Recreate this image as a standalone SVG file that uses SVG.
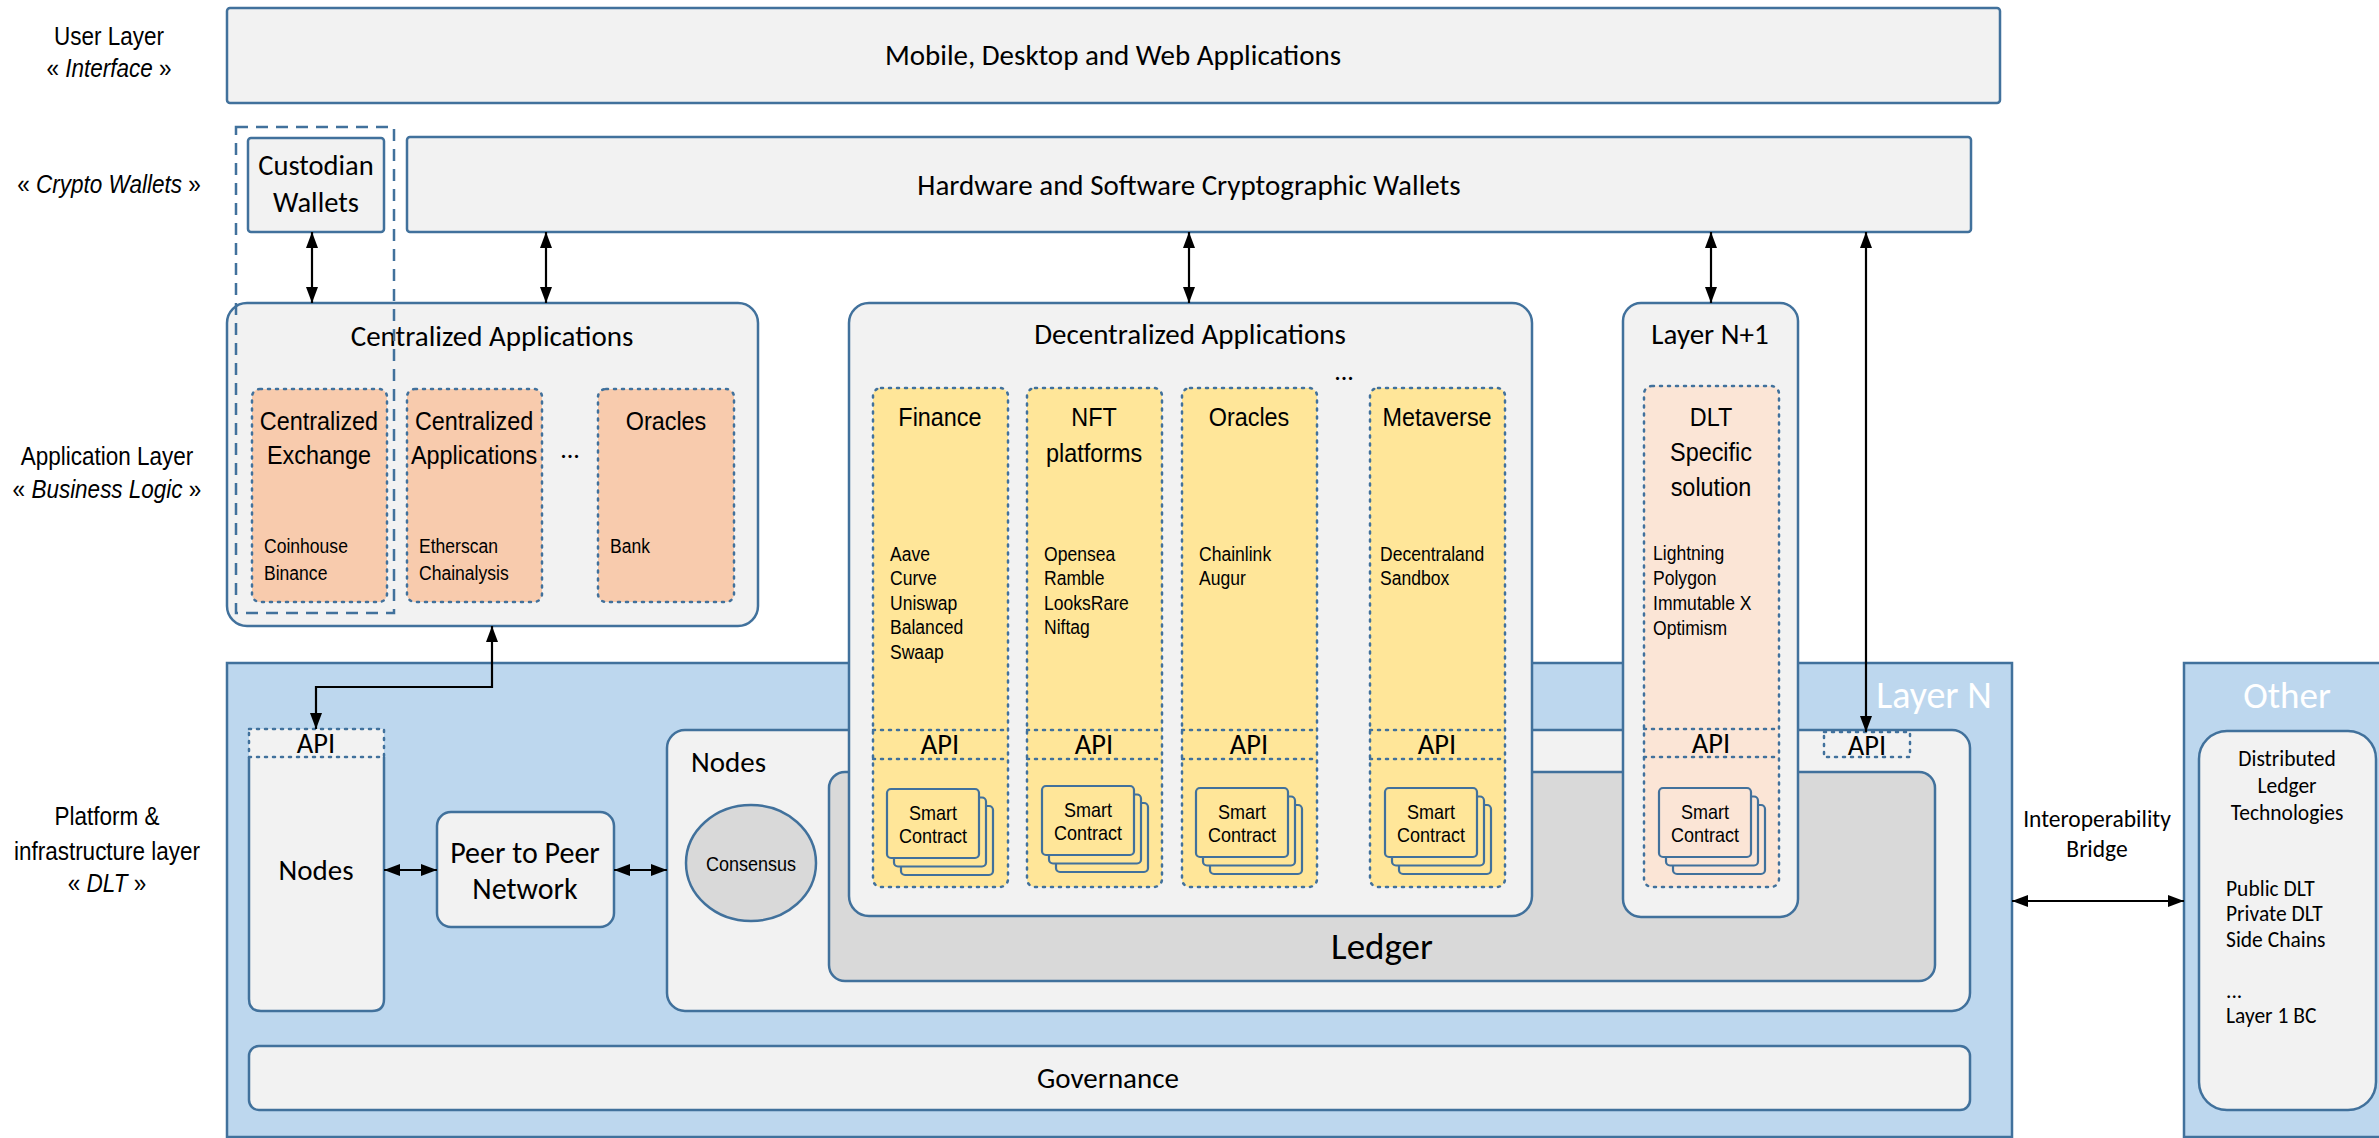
<svg xmlns="http://www.w3.org/2000/svg" width="2379" height="1138" viewBox="0 0 2379 1138">
  <style>
    .box { fill: #F2F2F2; stroke: #41719C; stroke-width: 2.5; }
    .layer { fill: #BDD7EE; stroke: #41719C; stroke-width: 2.5; }
    .ledger { fill: #D9D9D9; stroke: #41719C; stroke-width: 2.5; }
    .dot { stroke: #41719C; stroke-width: 2.5; stroke-dasharray: 2 6; stroke-linecap: round; }
    .org { fill: #F8CBAD; }
    .yel { fill: #FFE699; }
    .pnk { fill: #FBE5D6; }
    .sc { stroke: #41719C; stroke-width: 2.2; }
    .conn { fill: none; stroke: #000; stroke-width: 2.2; }
    .c { font-family: "Carlito", "Lato", "Open Sans", sans-serif; fill: #000; }
    .n { font-family: "Liberation Sans", Arial, sans-serif; fill: #000; }
    .mid { text-anchor: middle; }
    .w { fill: #FFFFFF; }
    .i { font-style: italic; }
  </style>
  <defs>
    <marker id="ah" viewBox="0 0 16 12" refX="16" refY="6" markerWidth="16" markerHeight="12" orient="auto-start-reverse" markerUnits="userSpaceOnUse">
      <path d="M0,0 L16,6 L0,12 z" fill="#000"/>
    </marker>
    <g id="stack-y">
      <rect x="14" y="17" width="92" height="69" rx="4" class="sc yel"/>
      <rect x="7" y="8.5" width="92" height="69" rx="4" class="sc yel"/>
      <rect x="0" y="0" width="92" height="69" rx="4" class="sc yel"/>
      <g transform="scale(0.9,1)" class="n mid" font-size="20">
        <text x="51.1" y="31">Smart</text>
        <text x="51.1" y="54">Contract</text>
      </g>
    </g>
    <g id="stack-p">
      <rect x="14" y="17" width="92" height="69" rx="4" class="sc pnk"/>
      <rect x="7" y="8.5" width="92" height="69" rx="4" class="sc pnk"/>
      <rect x="0" y="0" width="92" height="69" rx="4" class="sc pnk"/>
      <g transform="scale(0.9,1)" class="n mid" font-size="20">
        <text x="51.1" y="31">Smart</text>
        <text x="51.1" y="54">Contract</text>
      </g>
    </g>
  </defs>

  <!-- layer captions (narrow face: horizontally condensed) -->
  <g id="captions" font-size="25" transform="scale(0.9,1)">
    <text x="121.1" y="45" class="n mid">User Layer</text>
    <text x="121.1" y="77" class="n mid">« <tspan class="i">Interface</tspan> »</text>
    <text x="121.1" y="193" class="n mid">« <tspan class="i">Crypto Wallets</tspan> »</text>
    <text x="118.9" y="465" class="n mid">Application Layer</text>
    <text x="118.9" y="498" class="n mid">« <tspan class="i">Business Logic</tspan> »</text>
    <text x="118.9" y="825" class="n mid">Platform &amp;</text>
    <text x="118.9" y="860" class="n mid">infrastructure layer</text>
    <text x="118.9" y="892" class="n mid">« <tspan class="i">DLT</tspan> »</text>
  </g>

  <!-- user layer -->
  <g id="user-apps">
    <rect x="227" y="8" width="1773" height="95" rx="3" class="box"/>
    <text x="1113" y="65" class="c mid" font-size="29">Mobile, Desktop and Web Applications</text>
  </g>

  <!-- wallets -->
  <g id="custodian-wallets">
    <rect x="248" y="138" width="136" height="94" rx="3" class="box"/>
    <text x="316" y="175" class="c mid" font-size="28.5">Custodian</text>
    <text x="316" y="212" class="c mid" font-size="28.5">Wallets</text>
  </g>
  <g id="crypto-wallets">
    <rect x="407" y="137" width="1564" height="95" rx="3" class="box"/>
    <text x="1189" y="195" class="c mid" font-size="29">Hardware and Software Cryptographic Wallets</text>
  </g>

  <!-- platform layer N -->
  <g id="layer-n">
    <rect x="227" y="663" width="1785" height="474" class="layer"/>
    <text x="1934" y="708" class="c mid w" font-size="38">Layer N</text>
  </g>
  <g id="other-dlt">
    <rect x="2184" y="663" width="220" height="474" class="layer"/>
    <text x="2287" y="708" class="c mid w" font-size="37">Other</text>
    <rect x="2199" y="731" width="177" height="379" rx="28" class="box"/>
    <g class="c" font-size="21.5">
      <text x="2287" y="766" class="mid">Distributed</text>
      <text x="2287" y="793" class="mid">Ledger</text>
      <text x="2287" y="820" class="mid">Technologies</text>
      <text x="2226" y="896">Public DLT</text>
      <text x="2226" y="921">Private DLT</text>
      <text x="2226" y="947">Side Chains</text>
      <text x="2226" y="998">...</text>
      <text x="2226" y="1023">Layer 1 BC</text>
    </g>
  </g>
  <g id="bridge-label" class="c" font-size="23.5">
    <text x="2097" y="827" class="mid">Interoperability</text>
    <text x="2097" y="857" class="mid">Bridge</text>
  </g>

  <g id="nodes-cluster">
    <rect x="667" y="730" width="1303" height="281" rx="18" class="box"/>
    <text x="691" y="772" class="c" font-size="29">Nodes</text>
  </g>
  <g id="ledger">
    <rect x="829" y="772" width="1106" height="209" rx="16" class="ledger"/>
    <text x="1382" y="959" class="c mid" font-size="37">Ledger</text>
  </g>
  <g id="consensus">
    <ellipse cx="751" cy="863" rx="65" ry="58" class="ledger"/>
    <text x="834.4" y="871" class="n mid" font-size="20" transform="scale(0.9,1)">Consensus</text>
  </g>
  <g id="governance">
    <rect x="249" y="1046" width="1721" height="64" rx="10" class="box"/>
    <text x="1108" y="1088" class="c mid" font-size="29">Governance</text>
  </g>
  <g id="p2p">
    <rect x="437" y="812" width="177" height="115" rx="14" class="box"/>
    <text x="525" y="863" class="c mid" font-size="30">Peer to Peer</text>
    <text x="525" y="899" class="c mid" font-size="30">Network</text>
  </g>
  <g id="nodes-api">
    <rect x="249" y="740" width="135" height="271" rx="12" fill="#F2F2F2"/>
    <path d="M249,757 V999 Q249,1011 261,1011 H372 Q384,1011 384,999 V757" fill="none" stroke="#41719C" stroke-width="2.5"/>
    <rect x="249" y="729" width="135" height="28" fill="#F2F2F2" class="dot"/>
    <text x="316" y="753" class="c mid" font-size="28.5">API</text>
    <text x="316" y="880" class="c mid" font-size="29">Nodes</text>
  </g>
  <g id="layer-n-api">
    <rect x="1824" y="732" width="86" height="25" fill="#F2F2F2" class="dot"/>
    <text x="1867" y="755" class="c mid" font-size="28.5">API</text>
  </g>

  <!-- centralized applications -->
  <g id="centralized-apps">
    <rect x="227" y="303" width="531" height="323" rx="20" class="box"/>
    <text x="492" y="346" class="c mid" font-size="29">Centralized Applications</text>
    <rect x="252" y="389" width="135" height="213" rx="8" class="org dot"/>
    <rect x="407" y="389" width="135" height="213" rx="8" class="org dot"/>
    <rect x="598" y="389" width="136" height="213" rx="8" class="org dot"/>
    <g class="n mid" font-size="26" transform="scale(0.9,1)">
      <text x="354.4" y="430">Centralized</text>
      <text x="354.4" y="464">Exchange</text>
      <text x="526.7" y="430">Centralized</text>
      <text x="526.7" y="464">Applications</text>
      <text x="740" y="430">Oracles</text>
    </g>
    <text x="570" y="458" class="c mid" font-size="26">...</text>
    <g class="n" font-size="21" transform="scale(0.836,1)">
      <text x="315.8" y="553">Coinhouse</text>
      <text x="315.8" y="580">Binance</text>
      <text x="501.2" y="553">Etherscan</text>
      <text x="501.2" y="580">Chainalysis</text>
      <text x="729.7" y="553">Bank</text>
    </g>
  </g>

  <!-- decentralized applications -->
  <g id="decentralized-apps">
    <rect x="849" y="303" width="683" height="613" rx="20" class="box"/>
    <text x="1190" y="344" class="c mid" font-size="29">Decentralized Applications</text>
    <text x="1344" y="380" class="c mid" font-size="26">...</text>
    <g id="dapp-finance">
      <rect x="873" y="388" width="135" height="499" rx="8" class="yel dot"/>
      <line x1="873" y1="730" x2="1008" y2="730" class="dot"/>
      <line x1="873" y1="759" x2="1008" y2="759" class="dot"/>
      <text x="1044.4" y="426" class="n mid" font-size="26" transform="scale(0.9,1)">Finance</text>
      <g class="n" font-size="21" transform="scale(0.836,1)">
        <text x="1064.6" y="561">Aave</text>
        <text x="1064.6" y="585">Curve</text>
        <text x="1064.6" y="610">Uniswap</text>
        <text x="1064.6" y="634">Balanced</text>
        <text x="1064.6" y="659">Swaap</text>
      </g>
      <text x="940" y="754" class="c mid" font-size="28.5">API</text>
      <use href="#stack-y" x="887" y="789"/>
    </g>
    <g id="dapp-nft">
      <rect x="1027" y="388" width="135" height="499" rx="8" class="yel dot"/>
      <line x1="1027" y1="730" x2="1162" y2="730" class="dot"/>
      <line x1="1027" y1="759" x2="1162" y2="759" class="dot"/>
      <g class="n mid" font-size="26" transform="scale(0.9,1)">
        <text x="1215.6" y="426">NFT</text>
        <text x="1215.6" y="462">platforms</text>
      </g>
      <g class="n" font-size="21" transform="scale(0.836,1)">
        <text x="1248.8" y="561">Opensea</text>
        <text x="1248.8" y="585">Ramble</text>
        <text x="1248.8" y="610">LooksRare</text>
        <text x="1248.8" y="634">Niftag</text>
      </g>
      <text x="1094" y="754" class="c mid" font-size="28.5">API</text>
      <use href="#stack-y" x="1042" y="786"/>
    </g>
    <g id="dapp-oracles">
      <rect x="1182" y="388" width="135" height="499" rx="8" class="yel dot"/>
      <line x1="1182" y1="730" x2="1317" y2="730" class="dot"/>
      <line x1="1182" y1="759" x2="1317" y2="759" class="dot"/>
      <text x="1387.8" y="426" class="n mid" font-size="26" transform="scale(0.9,1)">Oracles</text>
      <g class="n" font-size="21" transform="scale(0.836,1)">
        <text x="1434.2" y="561">Chainlink</text>
        <text x="1434.2" y="585">Augur</text>
      </g>
      <text x="1249" y="754" class="c mid" font-size="28.5">API</text>
      <use href="#stack-y" x="1196" y="788"/>
    </g>
    <g id="dapp-metaverse">
      <rect x="1370" y="388" width="135" height="499" rx="8" class="yel dot"/>
      <line x1="1370" y1="730" x2="1505" y2="730" class="dot"/>
      <line x1="1370" y1="759" x2="1505" y2="759" class="dot"/>
      <text x="1596.7" y="426" class="n mid" font-size="26" transform="scale(0.9,1)">Metaverse</text>
      <g class="n" font-size="21" transform="scale(0.836,1)">
        <text x="1650.7" y="561">Decentraland</text>
        <text x="1650.7" y="585">Sandbox</text>
      </g>
      <text x="1437" y="754" class="c mid" font-size="28.5">API</text>
      <use href="#stack-y" x="1385" y="788"/>
    </g>
  </g>

  <!-- layer N+1 -->
  <g id="layer-n1">
    <rect x="1623" y="303" width="175" height="614" rx="18" class="box"/>
    <text x="1710" y="344" class="c mid" font-size="29">Layer N+1</text>
    <rect x="1644" y="386" width="135" height="501" rx="8" class="pnk dot"/>
    <line x1="1644" y1="729" x2="1779" y2="729" class="dot"/>
    <line x1="1644" y1="757" x2="1779" y2="757" class="dot"/>
    <g class="n mid" font-size="26" transform="scale(0.9,1)">
      <text x="1901.1" y="426">DLT</text>
      <text x="1901.1" y="461">Specific</text>
      <text x="1901.1" y="496">solution</text>
    </g>
    <g class="n" font-size="21" transform="scale(0.836,1)">
      <text x="1977.3" y="560">Lightning</text>
      <text x="1977.3" y="585">Polygon</text>
      <text x="1977.3" y="610">Immutable X</text>
      <text x="1977.3" y="635">Optimism</text>
    </g>
    <text x="1711" y="753" class="c mid" font-size="28.5">API</text>
    <use href="#stack-p" x="1659" y="788"/>
  </g>

  <!-- custody boundary -->
  <g id="custody-boundary">
    <rect x="236" y="127" width="158" height="486" fill="none" stroke="#41719C" stroke-width="2.5" stroke-dasharray="12 8"/>
  </g>

  <!-- connectors -->
  <g id="connectors">
    <line x1="312" y1="232" x2="312" y2="303" class="conn" marker-start="url(#ah)" marker-end="url(#ah)"/>
    <line x1="546" y1="232" x2="546" y2="303" class="conn" marker-start="url(#ah)" marker-end="url(#ah)"/>
    <line x1="1189" y1="232" x2="1189" y2="303" class="conn" marker-start="url(#ah)" marker-end="url(#ah)"/>
    <line x1="1711" y1="232" x2="1711" y2="303" class="conn" marker-start="url(#ah)" marker-end="url(#ah)"/>
    <line x1="1866" y1="232" x2="1866" y2="732" class="conn" marker-start="url(#ah)" marker-end="url(#ah)"/>
    <path d="M492,626 V687 H316 V729" class="conn" marker-start="url(#ah)" marker-end="url(#ah)"/>
    <line x1="384" y1="870" x2="437" y2="870" class="conn" stroke-width="3" marker-start="url(#ah)" marker-end="url(#ah)"/>
    <line x1="614" y1="870" x2="667" y2="870" class="conn" stroke-width="3" marker-start="url(#ah)" marker-end="url(#ah)"/>
    <line x1="2012" y1="901" x2="2184" y2="901" class="conn" stroke-width="3" marker-start="url(#ah)" marker-end="url(#ah)"/>
  </g>
</svg>
